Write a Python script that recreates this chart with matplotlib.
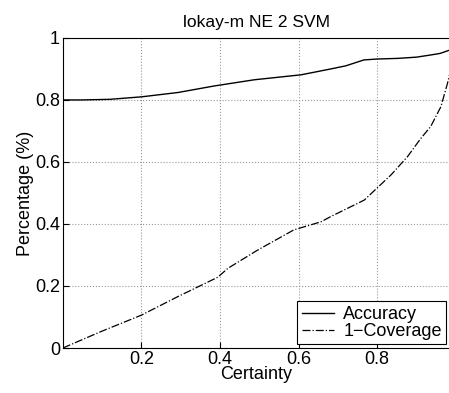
import matplotlib
matplotlib.use("Agg")
import matplotlib.pyplot as plt

plt.rcParams['font.family'] = ['Liberation Sans', 'DejaVu Sans']

title = "lokay-m NE 2 SVM"
acc_x = [0.0, 0.05, 0.12, 0.2, 0.293, 0.385, 0.487, 0.606, 0.682, 0.72, 0.766, 0.80, 0.852, 0.90, 0.936, 0.96, 0.985]
acc_y = [0.800, 0.800, 0.802, 0.810, 0.824, 0.845, 0.865, 0.881, 0.900, 0.910, 0.929, 0.932, 0.934, 0.938, 0.945, 0.950, 0.961]
cov_x = [0.0, 0.097, 0.2, 0.293, 0.394, 0.42, 0.496, 0.588, 0.657, 0.682, 0.767, 0.835, 0.877, 0.911, 0.936, 0.962, 0.979, 0.985]
cov_y = [0.0, 0.053, 0.106, 0.166, 0.228, 0.257, 0.316, 0.381, 0.407, 0.424, 0.477, 0.558, 0.617, 0.676, 0.714, 0.778, 0.854, 0.886]
xticks = [0.2, 0.4, 0.6, 0.8]
xticklabels = ["0.2", "0.4", "0.6", "0.8"]
yticks = [0, 0.2, 0.4, 0.6, 0.8, 1.0]
yticklabels = ["0", "0.2", "0.4", "0.6", "0.8", "1"]

fig = plt.figure(figsize=(4.49, 3.93), dpi=100)
ax = fig.add_axes([0.140, 0.1145, 0.862, 0.789])
ax.plot(acc_x, acc_y, color='black', lw=1.0, label='Accuracy')
ax.plot(cov_x, cov_y, color='black', lw=0.9, linestyle='-.', label='1\u2212Coverage')
ax.set_xlim(0, 0.985)
ax.set_ylim(0, 1)
ax.set_xticks(xticks)
ax.set_xticklabels(xticklabels)
ax.set_yticks(yticks)
ax.set_yticklabels(yticklabels)
ax.tick_params(direction='in', labelsize=13, length=4, pad=2)
ax.grid(True, linestyle=':', color='#999999', lw=0.8)
ax.set_xlabel('Certainty', fontsize=13, labelpad=-1)
ax.set_ylabel('Percentage (%)', fontsize=13, labelpad=1)
ax.set_title(title, fontsize=12.5, pad=8)
leg = ax.legend(loc='lower right', fontsize=13, fancybox=False, framealpha=1,
                edgecolor='black', borderaxespad=0.2, handlelength=1.8,
                labelspacing=0.0, borderpad=0.25, handletextpad=0.5)
leg.get_frame().set_linewidth(0.8)
fig.savefig('out.png', dpi=100)
